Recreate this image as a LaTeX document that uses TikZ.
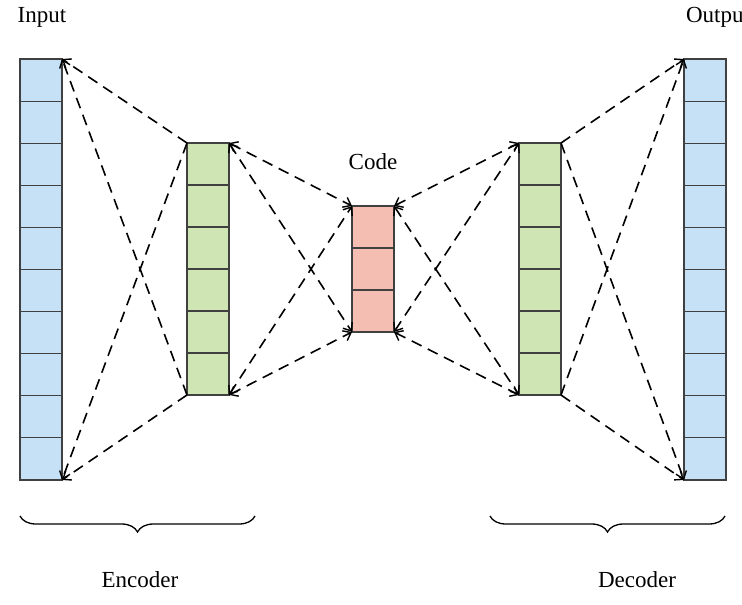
\documentclass[tikz,border=0pt]{standalone}
\usepackage{fontspec}
\setmainfont{Liberation Serif}
\usetikzlibrary{decorations.pathreplacing,arrows.meta}
\definecolor{inblue}{HTML}{C6E0F5}
\definecolor{hgreen}{HTML}{CFE5B4}
\definecolor{cred}{HTML}{F4BFB2}
\begin{document}
\begin{tikzpicture}[x=1pt,y=-1pt,
  >={Straight Barb[length=7pt,width=11pt,line width=1.4pt]},
  cell/.style={draw=black!75,line width=1.1pt},
  conn/.style={dashed,dash pattern=on 11pt off 7pt,line width=1.6pt},
  lab/.style={font=\fontsize{23}{27}\selectfont}]
\useasboundingbox (0,0) rectangle (742,605);
% columns
\foreach \i in {0,...,9}{\draw[cell,fill=inblue] (20,59+42.1*\i) rectangle (62,59+42.1*\i+42.1);}
\foreach \i in {0,...,9}{\draw[cell,fill=inblue] (684,59+42.1*\i) rectangle (726,59+42.1*\i+42.1);}
\foreach \i in {0,...,5}{\draw[cell,fill=hgreen] (187,143+42*\i) rectangle (229,143+42*\i+42);}
\foreach \i in {0,...,5}{\draw[cell,fill=hgreen] (519,143+42*\i) rectangle (561,143+42*\i+42);}
\foreach \i in {0,...,2}{\draw[cell,fill=cred] (352,206+42*\i) rectangle (394,206+42*\i+42);}
% corner coordinates
\coordinate (inT) at (62,59); \coordinate (inB) at (62,480);
\coordinate (e1T) at (187,143); \coordinate (e1B) at (187,395);
\coordinate (e2T) at (229,143); \coordinate (e2B) at (229,395);
\coordinate (c1T) at (352,206); \coordinate (c1B) at (352,332);
\coordinate (c2T) at (394,206); \coordinate (c2B) at (394,332);
\coordinate (d1T) at (519,143); \coordinate (d1B) at (519,395);
\coordinate (d2T) at (561,143); \coordinate (d2B) at (561,395);
\coordinate (oT) at (684,59); \coordinate (oB) at (684,480);
% connectors
\foreach \a/\b in {e1T/inT,e1B/inT,e1T/inB,e1B/inB}{\draw[conn,->] (\a) -- (\b);}
\foreach \a/\b in {e2T/c1T,e2B/c1T,e2T/c1B,e2B/c1B}{\draw[conn,<->] (\a) -- (\b);}
\foreach \a/\b in {c2T/d1T,c2B/d1T,c2T/d1B,c2B/d1B}{\draw[conn,<->] (\a) -- (\b);}
\foreach \a/\b in {d2T/oT,d2B/oT,d2T/oB,d2B/oB}{\draw[conn,->] (\a) -- (\b);}
% labels
\node[lab] (input) at (42,17) {Input};
\node[lab] (output) at (718,17) {Output};
\node[lab] (code) at (373,162) {Code};
\draw[line width=1.3pt,decorate,decoration={brace,amplitude=16pt,mirror}] (20,516) -- (255,516);
\draw[line width=1.3pt,decorate,decoration={brace,amplitude=16pt,mirror}] (490,516) -- (725,516);
\node[lab] (enc) at (140,580) {Encoder};
\node[lab] (dec) at (637,580) {Decoder};
\end{tikzpicture}
\end{document}
